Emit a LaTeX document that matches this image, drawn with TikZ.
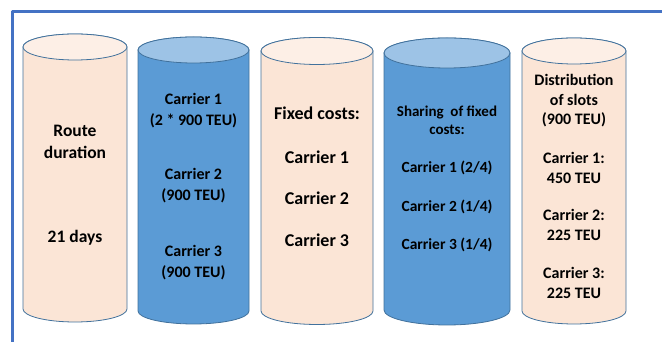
\documentclass[tikz,border=0pt]{standalone}
\usepackage{fontspec}
\setmainfont{Carlito}
\definecolor{framebl}{HTML}{4472C4}
\definecolor{edgebl}{HTML}{41719C}
\definecolor{peach}{HTML}{FBE5D6}
\definecolor{peachtop}{HTML}{FDEFE6}
\definecolor{midbl}{HTML}{5B9BD5}
\definecolor{lightbl}{HTML}{9DC3E6}
\begin{document}
\begin{tikzpicture}[x=1pt,y=1pt, line join=round, line cap=round,
    lbl/.style={align=center, inner sep=0pt, font=\bfseries\fontsize{17.5}{22}\selectfont},
    lblsm/.style={lbl, font=\bfseries\fontsize{15.5}{19.5}\selectfont}]
    \useasboundingbox (0,0) rectangle (662,342);
    % outer frame, only top and left edges show
    \draw[framebl, line width=3pt] (12.5,0) -- (12.5,330) -- (670,330);
    % barrels: left, right, top y, bottom y, half height of ellipse, body, lid
    \foreach \l/\r/\t/\b/\e/\body/\lid in {23/127/295/33/13/peach/peachtop,
        138/249/292/31/13/midbl/lightbl, 261/373/291/31/13.5/peach/peachtop,
        384/510/289/32/15/midbl/lightbl, 522/626/291/31/13/peach/peachtop}{
        \pgfmathsetmacro\rx{(\r-\l)/2}
        \filldraw[fill=\body, draw=edgebl, line width=0.8pt] (\l,\t) -- (\l,\b)
            arc (180:360:\rx pt and \e pt) -- (\r,\t) arc (0:180:\rx pt and \e pt) -- cycle;
        \filldraw[fill=\lid, draw=edgebl, line width=0.8pt] (\l+\rx,\t) ellipse (\rx pt and \e pt);
    }
    \node[lbl] (route) at (75,200) {Route\\duration};
    \node[lbl] (days) at (75,104) {21 days};
    \node[lbl, font=\bfseries\fontsize{16}{21}\selectfont] (cone) at (193.5,231.5) {Carrier 1\\(2 * 900 TEU)};
    \node[lbl, font=\bfseries\fontsize{16}{21}\selectfont] (ctwo) at (193.5,156) {Carrier 2\\(900 TEU)};
    \node[lbl, font=\bfseries\fontsize{16}{21}\selectfont] (cthree) at (193.5,79.5) {Carrier 3\\(900 TEU)};
    \node[lbl, font=\bfseries\fontsize{18}{22}\selectfont] (fixed) at (317,229) {Fixed costs:};
    \node[lbl, font=\bfseries\fontsize{18}{22}\selectfont] (fone) at (317,185) {Carrier 1};
    \node[lbl, font=\bfseries\fontsize{18}{22}\selectfont] (ftwo) at (317,144) {Carrier 2};
    \node[lbl, font=\bfseries\fontsize{18}{22}\selectfont] (fthree) at (317,102) {Carrier 3};
    \node[lblsm, font=\bfseries\fontsize{15}{18}\selectfont] (share) at (447,222) {Sharing\ \ of fixed\\costs:};
    \node[lblsm] (sone) at (447,174) {Carrier 1 (2/4)};
    \node[lblsm] (stwo) at (447,135) {Carrier 2 (1/4)};
    \node[lblsm] (sthree) at (447,97) {Carrier 3 (1/4)};
    \node[lblsm, font=\bfseries\fontsize{16}{19.5}\selectfont] (dist) at (574,241) {Distribution\\of slots\\(900 TEU)};
    \node[lblsm, font=\bfseries\fontsize{16}{19.5}\selectfont] (done) at (574,174) {Carrier 1:\\450 TEU};
    \node[lblsm, font=\bfseries\fontsize{16}{19.5}\selectfont] (dtwo) at (574,117) {Carrier 2:\\225 TEU};
    \node[lblsm, font=\bfseries\fontsize{16}{19.5}\selectfont] (dthree) at (574,59) {Carrier 3:\\225 TEU};
\end{tikzpicture}
\end{document}
